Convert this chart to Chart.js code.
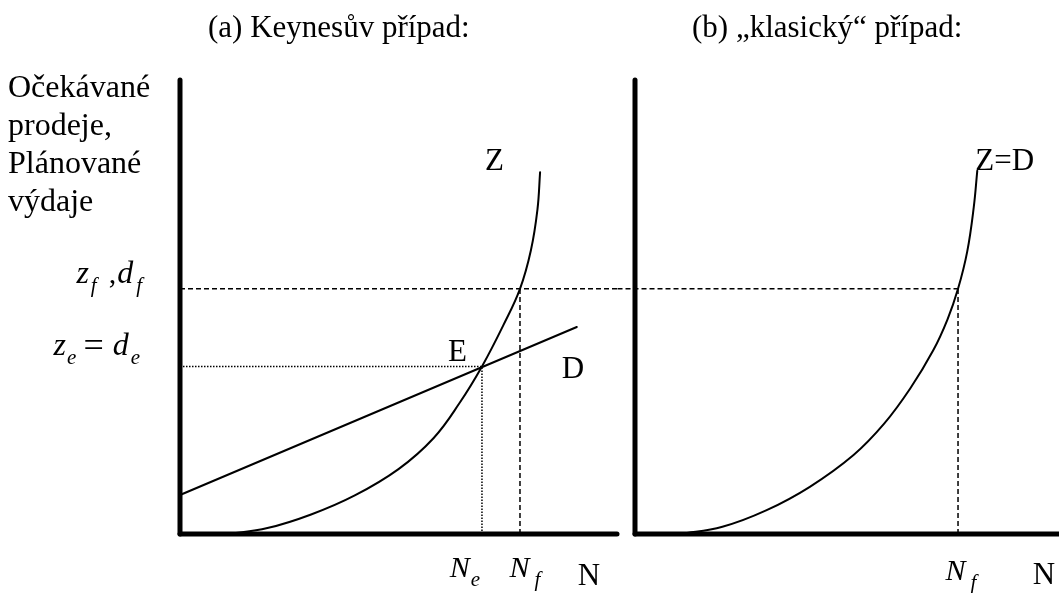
<!DOCTYPE html>
<html lang="cs">
<head>
  <meta charset="UTF-8">
  <title>Keynesův a klasický případ</title>
  <script src="https://cdn.jsdelivr.net/npm/chart.js"></script>
  <style>
    body { margin: 0; background: #fff; }
    canvas { position: absolute; top: 0; }
    #chartA { left: 0; }
    #chartB { left: 595px; }
  </style>
</head>
<body>
  <canvas id="chartA" width="625" height="593"></canvas>
  <canvas id="chartB" width="464" height="593"></canvas>

  <script>
    // (a) Keynesův případ – křivka Z (očekávané prodeje) a přímka D (plánované výdaje)
    const zA_N   = [10.8, 20, 30,  40,  50,   58,   64,   69.1, 74,   77.8, 80.3, 81.8, 82.4];
    const zA_val = [0,    1.3, 4.3, 8.5, 14.3, 21.1, 28.9, 36.9, 46.0, 54.0, 62.5, 71.5, 79.7];
    const dA_N   = [0, 90.8];
    const dA_val = [8.6, 45.6];
    const Ne = 69.1, ze = 36.9;   // bod E
    const NfA = 77.8, zf = 54.0;  // plná zaměstnanost

    // (b) „klasický" případ – Z = D
    const zB_N   = [10.3, 20,  30,  40,   50,   57,   63,   68.2, 71.5, 73.9, 76,   77.5, 78.3];
    const zB_val = [0,    1.6, 5.2, 10.4, 17.4, 24.3, 32.1, 40.4, 47.3, 54.0, 62.2, 72.0, 80.0];
    const NfB = 73.9;

    const axisTop = 100;
    const axisEndA = 100, axisEndB = 97;
    const nLabelAt = 91;

    const SERIF = "'Liberation Serif', 'Times New Roman', serif";
    const pts = (xs, ys) => xs.map((x, i) => ({ x: x, y: ys[i] }));

    function seg(data, width, dash) {
      return {
        data: data,
        borderColor: '#000',
        borderWidth: width,
        borderDash: dash || [],
        borderCapStyle: dash ? 'butt' : 'round',
        pointRadius: 0,
        fill: false,
        clip: false
      };
    }
    function curve(data) {
      const ds = seg(data, 2);
      ds.tension = 0.4;
      return ds;
    }

    // text helpers
    function fontOf(size, italic) {
      return (italic ? 'italic ' : '') + size + 'px ' + SERIF;
    }
    function txt(ctx, s, x, y, size, italic, align) {
      ctx.font = fontOf(size, italic);
      ctx.textAlign = align || 'left';
      ctx.textBaseline = 'alphabetic';
      ctx.fillStyle = '#000';
      ctx.fillText(s, x, y);
    }
    // part: [text, size, italic, baselineShift, gapBefore]
    function mathText(ctx, parts, x, y, align) {
      let w = 0;
      parts.forEach(p => {
        ctx.font = fontOf(p[1], p[2]);
        w += (p[4] || 0) + ctx.measureText(p[0]).width;
      });
      let cx = align === 'right' ? x - w : align === 'center' ? x - w / 2 : x;
      parts.forEach(p => {
        cx += p[4] || 0;
        txt(ctx, p[0], cx, y + (p[3] || 0), p[1], p[2]);
        ctx.font = fontOf(p[1], p[2]);
        cx += ctx.measureText(p[0]).width;
      });
    }
    const sub = (s, gap) => [s, 21, true, 9, gap || 0];
    const it = (s, gap) => [s, 32, true, 0, gap || 0];

    const labelsA = {
      id: 'labelsA',
      afterDraw(chart) {
        const ctx = chart.ctx, sx = chart.scales.x, sy = chart.scales.y;
        const X = v => sx.getPixelForValue(v), Y = v => sy.getPixelForValue(v);
        const left = chart.chartArea.left;
        ctx.save();
        txt(ctx, '(a) Keynesův případ:', 208, 37, 31);
        ['Očekávané', 'prodeje,', 'Plánované', 'výdaje'].forEach((s, i) => {
          txt(ctx, s, 8, Y(axisTop) + 17 + i * 38, 32);
        });
        mathText(ctx, [it('z'), sub('f', 2), [',', 30, false, 0, 12], it('d', 1), sub('f', 3)],
          left - 38, Y(zf) - 6, 'right');
        mathText(ctx, [it('z'), sub('e', 1), ['=', 36, false, 2, 7], it('d', 9), sub('e', 2)],
          left - 40, Y(ze) - 11, 'right');
        mathText(ctx, [['N', 30, true], sub('e', 1)], X(Ne) - 17, Y(0) + 43, 'center');
        mathText(ctx, [['N', 30, true], sub('f', 5)], X(NfA) + 5, Y(0) + 43, 'center');
        txt(ctx, 'N', X(nLabelAt), Y(0) + 51, 31);
        const last = zA_N.length - 1;
        txt(ctx, 'Z', X(zA_N[last]) - 55, Y(zA_val[last]) - 2, 31);
        txt(ctx, 'E', X(Ne) - 34, Y(ze) - 5, 31);
        txt(ctx, 'D', X(dA_N[1]) - 15, Y(dA_val[1]) + 51, 31);
        ctx.restore();
      }
    };

    const labelsB = {
      id: 'labelsB',
      afterDraw(chart) {
        const ctx = chart.ctx, sx = chart.scales.x, sy = chart.scales.y;
        const X = v => sx.getPixelForValue(v), Y = v => sy.getPixelForValue(v);
        ctx.save();
        txt(ctx, '(b) \u201Eklasický\u201C případ:', 97, 37, 31);
        mathText(ctx, [['N', 30, true], sub('f', 5)], X(NfB) + 3, Y(0) + 46, 'center');
        txt(ctx, 'N', X(nLabelAt), Y(0) + 50, 31);
        const last = zB_N.length - 1;
        txt(ctx, 'Z=D', X(zB_N[last]) - 2, Y(zB_val[last]) - 1, 31);
        ctx.restore();
      }
    };

    function makeOptions(xMax, padLeft, padRight) {
      return {
        responsive: false,
        animation: false,
        layout: { padding: { left: padLeft, right: padRight, top: 80, bottom: 59 } },
        plugins: { legend: { display: false }, tooltip: { enabled: false } },
        scales: {
          x: { type: 'linear', display: false, min: 0, max: xMax },
          y: { type: 'linear', display: false, min: 0, max: axisTop }
        }
      };
    }

    new Chart(document.getElementById('chartA'), {
      type: 'line',
      data: {
        datasets: [
          seg([{ x: 0, y: 0 }, { x: 0, y: axisTop }], 5),
          seg([{ x: 0, y: 0 }, { x: axisEndA, y: 0 }], 5),
          curve(pts(zA_N, zA_val)),
          seg(pts(dA_N, dA_val), 2),
          seg([{ x: 0, y: zf }, { x: axisEndA, y: zf }], 1.5, [5, 3]),
          seg([{ x: NfA, y: 0 }, { x: NfA, y: zf }], 1.5, [5, 3]),
          seg([{ x: 0, y: ze }, { x: Ne, y: ze }], 1.5, [1.5, 1.5]),
          seg([{ x: Ne, y: 0 }, { x: Ne, y: ze }], 1.5, [1.5, 1.5])
        ]
      },
      options: makeOptions(axisEndA, 180, 8),
      plugins: [labelsA]
    });

    new Chart(document.getElementById('chartB'), {
      type: 'line',
      data: {
        datasets: [
          seg([{ x: 0, y: 0 }, { x: 0, y: axisTop }], 5),
          seg([{ x: 0, y: 0 }, { x: axisEndB, y: 0 }], 5),
          curve(pts(zB_N, zB_val)),
          seg([{ x: -4, y: zf }, { x: NfB, y: zf }], 1.5, [5, 3]),
          seg([{ x: NfB, y: 0 }, { x: NfB, y: zf }], 1.5, [5, 3])
        ]
      },
      options: makeOptions(axisEndB, 40, 0),
      plugins: [labelsB]
    });
  </script>
</body>
</html>
